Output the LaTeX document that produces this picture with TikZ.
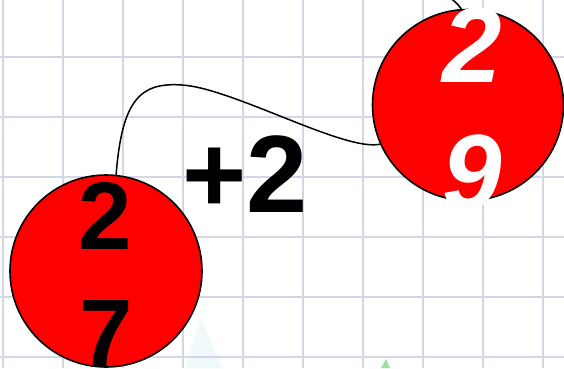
\documentclass[tikz,border=0pt]{standalone}
\usepackage{fontspec}
\setmainfont{Liberation Sans}
\definecolor{gdLine}{HTML}{D3D6E6}
\definecolor{gdRed}{HTML}{FF0000}
\definecolor{gdHaze}{HTML}{F0FAFA}
\definecolor{gdLeaf}{HTML}{9BE39B}
\usetikzlibrary{calc}

\begin{document}
\begin{tikzpicture}[
  x=1pt,y=-1pt,
  gridline/.style={draw=gdLine,line width=1.8pt},
  disc/.style={circle,draw=black,line width=1.6pt,fill=gdRed,inner sep=0pt},
  digit/.style={anchor=base,inner sep=0pt,font=\fontsize{96}{96}\selectfont\bfseries},
  wdigit/.style={digit,text=white,font=\fontsize{107}{107}\selectfont\bfseries\itshape},
  wire/.style={draw=black,line width=1.5pt}
]
\useasboundingbox (0,0) rectangle (564,368);
\clip (0,0) rectangle (564,368);
\fill[white] (0,0) rectangle (564,368);
\fill[gdHaze] (185,368) -- (201,318) -- (222,368) -- cycle;
\foreach \gx in {3,63,...,543}
  \draw[gridline] (\gx,0) -- (\gx,368);
\foreach \gy in {57,117,...,357}
  \draw[gridline] (0,\gy) -- (564,\gy);
\fill[gdLeaf] (381,368) -- (386,359) -- (390,368) -- cycle;

\node[disc,minimum size=192pt] (c27) at (106,271) {};
\node[disc,minimum size=191pt] (c29) at (468,105) {};

\node[digit] (d27a) at (105.5,249) {2};
\node[digit] (d27b) at (106,366) {7};
\node[wdigit] (d29a) at (472,82) {2};
\node[wdigit] (d29b) at (472,209) {9};
\node[digit,font=\fontsize{110}{110}\selectfont\bfseries] (plus) at (245,212) {+2};

\coordinate (offtop) at (444,-6);
\draw[wire] (c27.84) .. controls (122,100) and (140,82) .. (182,85)
  .. controls (232,88) and (345,152) .. (c29.204);
\draw[wire] (c29.94) .. controls (456,2) .. (offtop);
\end{tikzpicture}
\end{document}
